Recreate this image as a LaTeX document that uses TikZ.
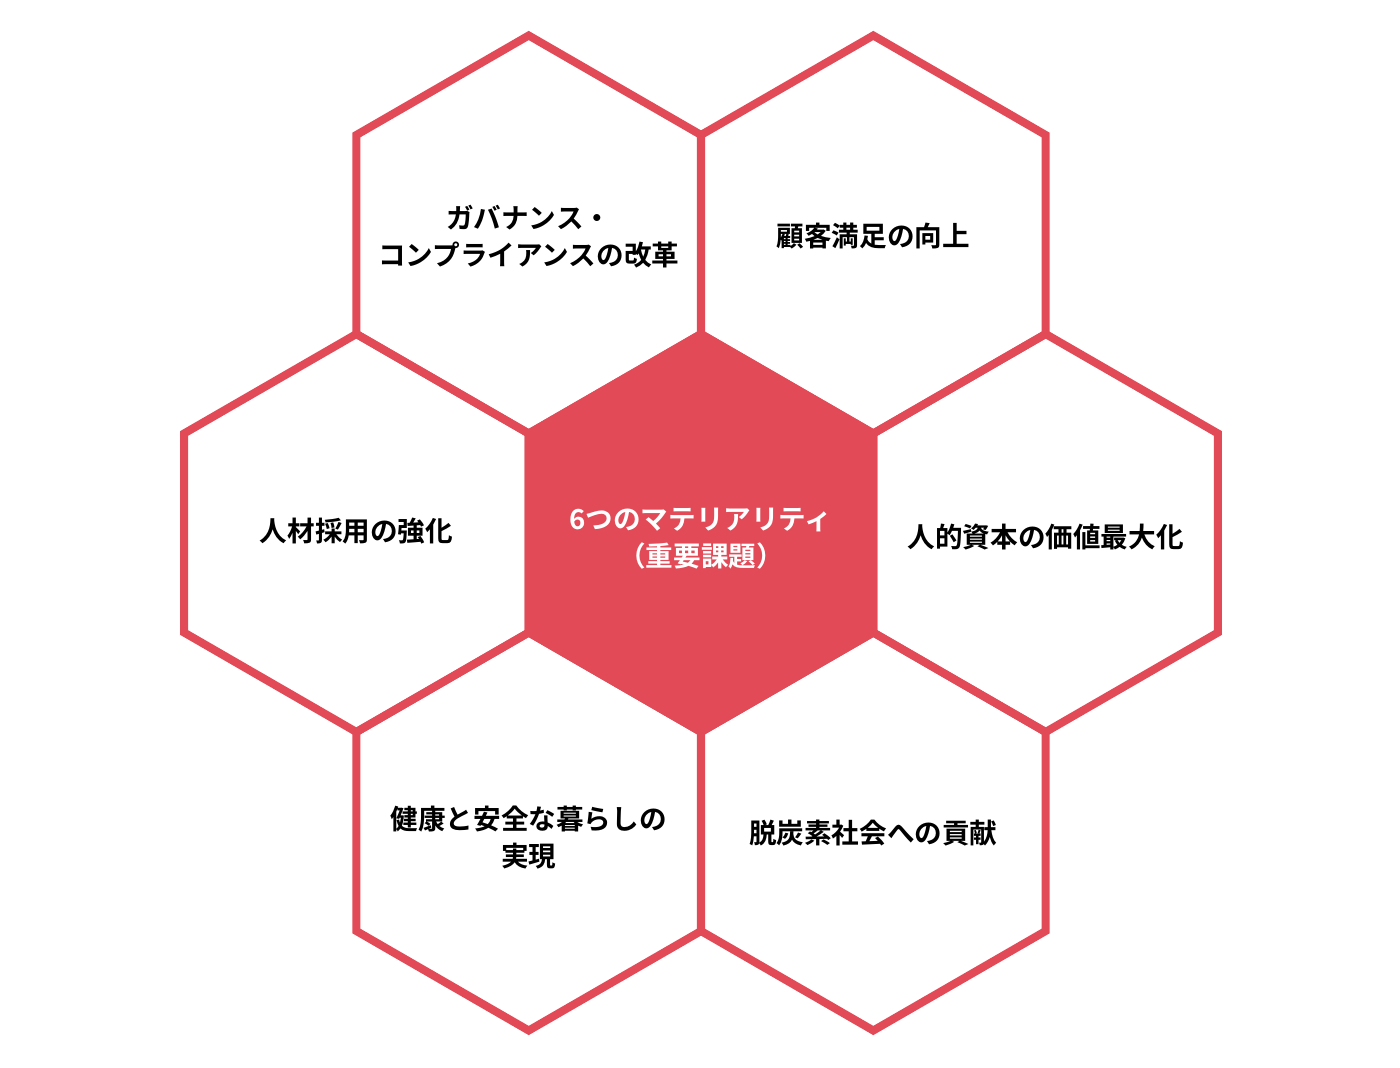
\documentclass[tikz,border=0pt]{standalone}
\usepackage{fontspec}
\setmainfont{Noto Sans CJK JP}[BoldFont={* Bold}]
\usetikzlibrary{positioning}
\definecolor{matred}{RGB}{226,74,87}

\begin{document}
\begin{tikzpicture}[x=0.5pt,y=-0.5pt,
  hexline/.style={draw=matred,line width=4pt,line join=miter},
  hextext/.style={font=\fontsize{13.8pt}{18.5pt}\selectfont\bfseries,text=black,align=center,inner sep=0pt}]
\useasboundingbox[fill=white] (0,0) rectangle (1400,1068);

% hexagon centres
\coordinate (C) at (701,533);
\coordinate (TL) at (528.7,234.5);
\coordinate (TR) at (873.3,234.5);
\coordinate (L) at (356.4,533);
\coordinate (R) at (1045.6,533);
\coordinate (BL) at (528.7,831.5);
\coordinate (BR) at (873.3,831.5);

\foreach \c in {TL,TR,L,R,BL,BR}{
\draw[hexline] (\c) +(90:199) -- +(150:199) -- +(210:199) -- +(270:199) -- +(330:199) -- +(30:199) -- cycle;
}
\draw[hexline,fill=matred] (C) +(90:199) -- +(150:199) -- +(210:199) -- +(270:199) -- +(330:199) -- +(30:199) -- cycle;

\node[hextext] (gov) at ([yshift=-1]TL) {ガバナンス・\\コンプライアンスの改革};
\node[hextext] (cust) at ([yshift=-1]TR) {顧客満足の向上};
\node[hextext] (recruit) at ([yshift=0.75]L) {人材採用の強化};
\node[hextext] (human) at ([yshift=-2]R) {人的資本の価値最大化};
\node[hextext] (health) at ([yshift=-3]BL) {健康と安全な暮らしの\\実現};
\node[hextext] (carbon) at ([yshift=-0.75]BR) {脱炭素社会への貢献};
\node[hextext,text=white] (core) at ([yshift=-2.75]C) {6つのマテリアリティ\\（重要課題）};

\end{tikzpicture}
\end{document}
